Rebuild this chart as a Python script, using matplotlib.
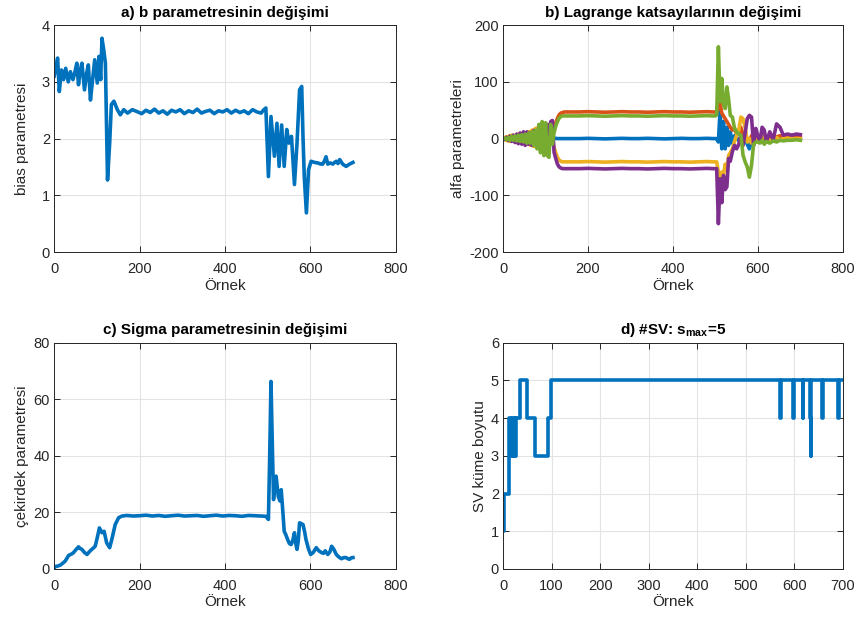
import numpy as np
import matplotlib.pyplot as plt

plt.rcParams['font.family'] = ['Liberation Sans', 'DejaVu Sans']
plt.rcParams['mathtext.fontset'] = 'custom'
plt.rcParams['mathtext.rm'] = 'Liberation Sans'
plt.rcParams['mathtext.bf'] = 'Liberation Sans:bold'
plt.rcParams['axes.unicode_minus'] = False

# MATLAB default line colours
blue, orange, yellow, purple, green = '#0072BD', '#D95319', '#EDB120', '#7E2F8E', '#77AC30'

# a) bias parameter
a_x = [0, 4, 8, 12, 17, 22, 27, 33, 38, 44, 48, 53, 57, 61, 65, 71, 76, 80, 85, 90,
       95, 101, 105, 109, 112, 116, 120, 125, 130, 134, 140, 148, 155, 163, 172, 183, 193,
       205, 215, 225, 235, 245, 255, 265, 275, 285, 295, 305, 315, 325, 335, 345, 355,
       365, 375, 385, 395, 405, 415, 425, 435, 445, 455, 465, 475, 485, 490, 496,
       502, 508, 516, 522, 527, 533, 539, 545, 550, 556, 563, 569, 575, 580, 583, 586,
       591, 596, 602, 610, 618, 625, 629, 633, 637, 641, 647, 653, 657, 661, 665, 669,
       676, 684, 692, 700]
a_y = [3.10, 3.25, 3.42, 2.83, 3.21, 3.04, 3.24, 3.00, 3.18, 3.04, 3.15, 3.33, 2.95, 3.20,
       3.33, 2.86, 3.15, 3.30, 2.68, 3.04, 3.39, 2.98, 3.45, 3.04, 3.77, 3.57, 3.33, 1.27,
       1.92, 2.60, 2.66, 2.51, 2.42, 2.51, 2.45, 2.51, 2.48,
       2.44, 2.50, 2.46, 2.52, 2.45, 2.49, 2.43, 2.50, 2.47, 2.51, 2.44, 2.49, 2.46, 2.52,
       2.45, 2.48, 2.50, 2.44, 2.49, 2.47, 2.51, 2.45, 2.50, 2.46, 2.49, 2.44, 2.51, 2.47,
       2.45, 2.50, 2.54,
       1.33, 2.39, 1.69, 2.27, 1.51, 2.24, 1.51, 2.16, 1.92, 2.04, 1.19, 1.92, 2.86, 2.92,
       2.04, 1.33, 0.69, 1.45, 1.60, 1.58, 1.57, 1.55, 1.55, 1.60, 1.68, 1.55, 1.57, 1.55,
       1.58, 1.60, 1.56, 1.63, 1.55, 1.51, 1.55, 1.58]

# b) Lagrange multipliers (five series on a shared sample grid)
b_x = [0, 4, 8, 12, 16, 20, 24, 28, 32, 36, 40, 44, 48, 52, 56, 60, 64, 68, 72, 76, 80,
       84, 88, 92, 96, 100, 104, 108, 112, 116, 120, 124, 128, 132, 136, 140, 145, 150, 160,
       180, 200, 220, 240, 260, 280, 300, 320, 340, 360, 380, 400, 420, 440, 460, 480, 495, 500,
       503, 507, 511, 515, 519, 523, 527, 531, 535, 540, 545, 550, 555, 560, 565, 570, 575,
       580, 585, 590, 595, 600, 605, 610, 615, 620, 628, 636, 644, 652, 660, 670, 680, 690, 700]
b_blue = [0, 1, -1, 2, -2, 3, -2, 2, -3, 3, -2, 4, -3, 3, -4, 4, -3, 5, -4, 4, -5,
          5, -4, 6, -5, 5, -4, 3, -2, 1, 0, 0.5, 0, 0, 0, 0, 0, 0, 0,
          0, 0.5, 0, -0.5, 0, 0.5, 0, 0, 0.5, 0, -0.5, 0, 0.5, 0, 0, 0.5, 0, 0,
          0, -6, 50, -18, 30, -18, 20, -12, 12, -8, 5, 0, -3, 3, -5, 0, -10,
          -18, -5, 0, 2, 0, 1, -1, 2, 0, 1, -1, 0, 1, 0, 1, 0, 0, 0]
b_orange = [0, -2, 3, -4, 5, -3, 6, -5, 4, -6, 7, -5, 6, -8, 8, -10, 12, -12, 15, -14, 18,
            -10, 14, -16, 20, -14, 22, -18, 15, 8, 20, 28, 36, 42, 45, 46, 47, 47, 47,
            47, 47.5, 47, 46.5, 47, 47.5, 47, 47, 46.5, 47, 47.5, 47, 47, 46.5, 47, 47.5, 47, 47,
            47, 55, 62, 45, 40, 35, 30, 25, 20, 15, 18, 8, 12, 20, 5, 10, -2,
            -5, 5, 2, -3, 3, 0, 4, 1, 3, 2, 4, 3, 5, 4, 5, 5, 5, 5]
b_yellow = [0, 2, -3, 4, -5, 6, -4, 5, -7, 8, -6, 9, -8, 10, -7, 12, -12, 15, -14, 18, -16,
            20, -18, 15, -20, 22, -15, 18, -10, -5, -15, -25, -33, -38, -40, -41, -41, -41, -41,
            -41, -40.5, -41, -41.5, -41, -40.5, -41, -41, -41.5, -41, -40.5, -41, -41, -41.5, -41, -40.5, -41, -41,
            -41, -59, -71, -59, -65, -45, -55, -30, -25, -18, -5, 6, 15, 38, 35, 20, -6,
            0, -8, 5, -3, 2, -4, 3, -2, 2, -3, 0, 2, -2, 0, 1, 0, 0, 0]
b_purple = [0, -1, 2, -3, 4, -5, 6, -7, 8, -9, 10, -10, 12, -12, 12, -10, 10, -12, 14, -10, 12,
            -15, 18, -20, 22, -18, 25, -22, 30, 32, -24, -35, -45, -50, -52, -53, -53, -53, -53,
            -53, -52.5, -53, -53.5, -53, -52.5, -53, -53, -53.5, -53, -52.5, -53, -53, -53.5, -53, -52.5, -53, -53,
            -53, -150, -71, -113, -65, -90, -85, -35, -40, -23, -12, -18, -10, 6, -12, 10, 35,
            41, 38, -12, 18, 5, -6, 20, 15, -6, 12, -2, 26, 20, 6, 8, 6, 8, 7]
b_green = [0, 1, -2, 2, -3, 4, -3, 5, -4, 6, -5, 7, -6, 8, -8, 10, -8, 12, -12, 15, -18,
           25, -25, 30, -30, 28, -30, -33, 25, -10, 10, 22, 30, 36, 39, 40, 40, 40, 40,
           40, 40.5, 40, 39.5, 40, 40.5, 40, 40, 39.5, 40, 40.5, 40, 40, 39.5, 40, 40.5, 40, 40,
           42, 162, 65, 106, 60, 53, 91, 70, 41, 38, 18, 12, 8, 6, -29, -41, -50,
           -68, -47, -10, -6, -6, -8, -3, -10, -5, -8, -4, -6, -3, -4, -3, -3, -2, -3]

# c) sigma parameter
c_x = [0, 2, 8, 14, 20, 26, 30, 34, 40, 45, 51, 57, 61, 65, 71, 77, 82, 88, 92, 96,
       100, 106, 112, 117, 123, 130, 135, 143, 151, 159,
       170, 185, 200, 215, 230, 245, 260, 275, 290, 305, 320, 335, 350, 365, 380, 395,
       410, 425, 440, 455, 470, 485,
       496, 502, 505, 508, 511, 514, 517, 520, 525, 529, 532, 536, 539, 543, 547, 551,
       555, 559, 563, 566, 569, 572, 575, 579, 583, 587, 590, 596, 601, 607, 614, 620,
       626, 631, 635, 641, 646, 650, 655, 661, 667, 673, 679, 684, 688, 692, 696, 700]
c_y = [0.3, 0.8, 1.0, 1.3, 2.0, 2.8, 3.8, 4.8, 5.2, 5.7, 6.8, 7.8, 7.2, 6.9, 5.8, 5.1,
       6.0, 6.9, 7.4, 8.0, 10.4, 14.5, 12.8, 13.3, 9.2, 7.5, 10.4, 15.7, 18.1, 18.7,
       18.9, 18.7, 18.8, 19.0, 18.7, 18.9, 18.6, 18.8, 19.0, 18.7, 18.8, 18.9, 18.6, 18.8,
       19.0, 18.7, 18.9, 18.8, 18.6, 18.9, 18.8, 18.7,
       18.6, 17.5, 40, 66.3, 45, 24.5, 30, 32.8, 25.7, 24, 28, 19.8, 13.3, 12, 10.4, 9,
       8.6, 10, 12.8, 9, 6.9, 10, 16.3, 16.0, 15.7, 13, 10.4, 7, 5.1, 5.8, 7.5, 6.4,
       5.8, 5.5, 6.4, 5.1, 6.0, 8.0, 7.0, 5.1, 4.2, 3.6, 4.0, 4.0, 3.6, 3.4, 3.9, 4.0]

# d) number of support vectors (step changes)
d_x = [0, 1, 13, 15.5, 18, 21, 24, 25.5, 27, 34, 49, 65, 93, 98, 570, 573, 597, 599,
       617, 619, 633, 634, 635, 657, 659, 691, 693, 700]
d_y = [1, 2, 4, 3, 4, 3, 4, 3, 4, 5, 4, 3, 4, 5, 4, 5, 4, 5,
       4, 5, 4, 3, 5, 4, 5, 4, 5, 5]

fig = plt.figure(figsize=(8.6, 6.3), dpi=100)
ax_a = fig.add_axes([0.063, 0.600, 0.397, 0.360])
ax_b = fig.add_axes([0.585, 0.600, 0.395, 0.360])
ax_c = fig.add_axes([0.063, 0.097, 0.397, 0.359])
ax_d = fig.add_axes([0.585, 0.097, 0.395, 0.359])

lw = 2.6
ax_a.plot(a_x, a_y, color=blue, lw=lw)
for ys, col in [(b_blue, blue), (b_orange, orange), (b_yellow, yellow),
                (b_purple, purple), (b_green, green)]:
    ax_b.plot(b_x, ys, color=col, lw=lw)
ax_c.plot(c_x, c_y, color=blue, lw=lw)
ax_d.step(d_x, d_y, where='post', color=blue, lw=lw)

ax_a.set(xlim=(0, 800), ylim=(0, 4), xticks=range(0, 801, 200), yticks=range(0, 5))
ax_b.set(xlim=(0, 800), ylim=(-200, 200), xticks=range(0, 801, 200), yticks=range(-200, 201, 100))
ax_c.set(xlim=(0, 800), ylim=(0, 80), xticks=range(0, 801, 200), yticks=range(0, 81, 20))
ax_d.set(xlim=(0, 700), ylim=(0, 6), xticks=range(0, 701, 100), yticks=range(0, 7))

titles = ['a) b parametresinin değişimi', 'b) Lagrange katsayılarının değişimi',
          'c) Sigma parametresinin değişimi', r'd) #SV: s$_{\bf max}$=5']
ylabels = ['bias parametresi', 'alfa parametreleri', 'çekirdek parametresi', 'SV küme boyutu']
ypads = [9, 3, 3, 3]
for ax, t, yl, yp in zip([ax_a, ax_b, ax_c, ax_d], titles, ylabels, ypads):
    ax.set_title(t, fontsize=11, fontweight='bold', pad=6)
    ax.set_xlabel('Örnek', fontsize=11, color='#262626', labelpad=2)
    ax.set_ylabel(yl, fontsize=11, color='#262626', labelpad=yp)
    ax.grid(True, color='#e3e3e3', lw=0.8)
    ax.set_axisbelow(True)
    ax.tick_params(direction='in', top=True, right=True, length=4, width=0.7,
                   labelsize=10.5, colors='#262626', pad=3)
    ax.tick_params(axis='x', pad=7)
    for s in ax.spines.values():
        s.set_color('#262626')
        s.set_linewidth(0.7)

fig.savefig('out.png', dpi=100)
